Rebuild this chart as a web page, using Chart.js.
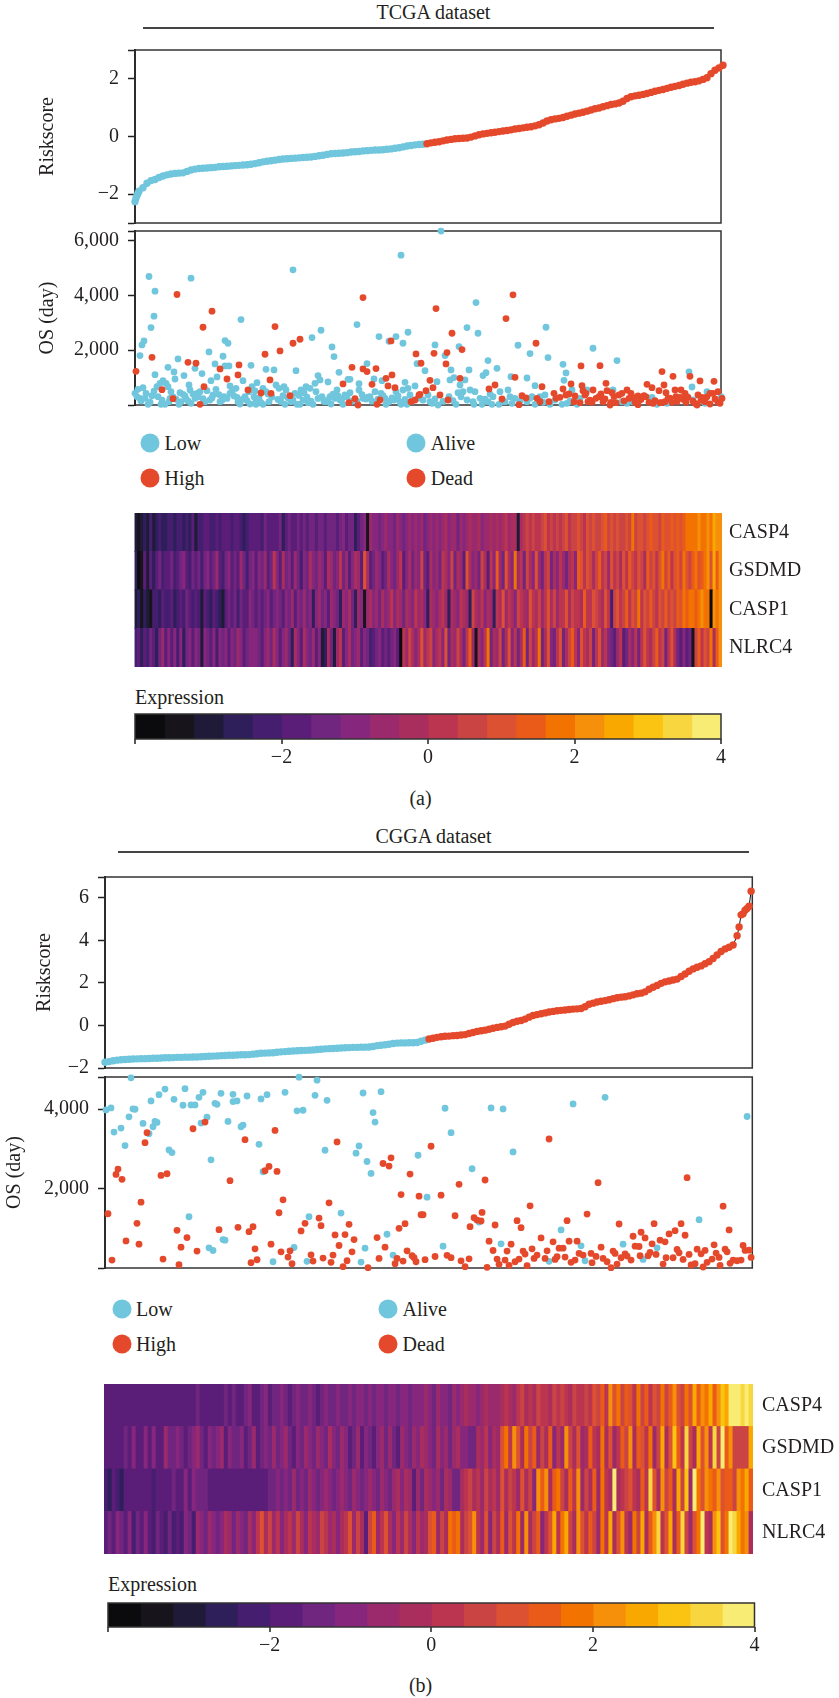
<!DOCTYPE html>
<html>
<head>
<meta charset="utf-8">
<title>TCGA and CGGA risk panels</title>
<script src="https://cdn.jsdelivr.net/npm/chart.js@4"></script>
<style>
  html, body { margin: 0; padding: 0; background: #fff; }
  #page { position: relative; width: 839px; height: 1698px; overflow: hidden; font-family: "Liberation Serif", serif; color: #231f20; }
  canvas { position: absolute; left: 0; }
  .txt { position: absolute; white-space: nowrap; font-size: 20px; line-height: 24px; transform: translateY(-50%); }
  .mid { transform: translate(-50%, -50%); }
  .rule { position: absolute; height: 2px; background: #444; }
  .dot { position: absolute; width: 19px; height: 19px; border-radius: 50%; transform: translate(-50%, -50%); }
</style>
</head>
<body>
<div id="page"></div>
<script>
// colours
let blue = '#70c6dc';
let red = '#e5492c';
let ink = '#231f20';
let serif = 'Liberation Serif';

// colour bar bins, -4 to 4 in steps of 0.4
let binColors = ['#0b0a0c', '#17141b', '#1f1a38', '#2e1e5a', '#451e70', '#5b1e78', '#70257f', '#86267c', '#9b2a6c', '#aa2e5d',
    '#bb3550', '#cb4444', '#dd5133', '#ea5b19', '#f27300', '#f68f0a', '#f9a800', '#fbc312', '#f8d640', '#f8ec74'];
let binEdges = [-4, -3.6, -3.2, -2.8, -2.4, -2, -1.6, -1.2, -0.8, -0.4, 0, 0.4, 0.8, 1.2, 1.6, 2, 2.4, 2.8, 3.2, 3.6, 4];
let barTicks = [-4, -2, 0, 2, 4];
let barTickLabels = ['', '\u22122', '0', '2', '4'];
let genes = ['NLRC4', 'CASP1', 'GSDMD', 'CASP4'];

// TCGA risk score, sorted, one value every 4 ranks
let tcgaRiskStep = 4;
let tcgaRiskLow = [-2.26, -1.9, -1.78, -1.62, -1.53, -1.49, -1.42, -1.37, -1.33, -1.3, -1.28, -1.27, -1.26, -1.21, -1.16, -1.13, -1.11, -1.1, -1.09, -1.08,
    -1.07, -1.05, -1.04, -1.03, -1.02, -1.01, -1, -0.99, -0.98, -0.96, -0.94, -0.91, -0.88, -0.86, -0.84, -0.82, -0.8, -0.78, -0.77, -0.76,
    -0.75, -0.74, -0.73, -0.72, -0.71, -0.69, -0.67, -0.65, -0.62, -0.6, -0.59, -0.58, -0.57, -0.56, -0.54, -0.53, -0.52, -0.5, -0.49, -0.48,
    -0.47, -0.47, -0.46, -0.44, -0.43, -0.41, -0.39, -0.36, -0.33, -0.31, -0.29, -0.28, -0.27];
let tcgaRiskHigh = [-0.25, -0.22, -0.2, -0.18, -0.15, -0.12, -0.1, -0.08, -0.07, -0.06, -0.05, -0.02, 0.02, 0.06, 0.09, 0.11, 0.13, 0.15, 0.17, 0.19,
    0.21, 0.23, 0.26, 0.28, 0.3, 0.32, 0.34, 0.37, 0.41, 0.47, 0.54, 0.58, 0.61, 0.63, 0.66, 0.7, 0.74, 0.78, 0.81, 0.84,
    0.88, 0.92, 0.96, 0.99, 1.03, 1.07, 1.11, 1.13, 1.16, 1.22, 1.32, 1.38, 1.41, 1.43, 1.46, 1.49, 1.53, 1.57, 1.6, 1.63,
    1.67, 1.71, 1.74, 1.77, 1.81, 1.85, 1.88, 1.9, 1.93, 1.98, 2.04, 2.18, 2.3, 2.38, 2.47];
let tcgaHeadRank = [1, 2, 3];
let tcgaHeadRisk = [-2.14, -2.05, -1.97];

// TCGA survival
let tcgaAliveRank = [14, 20, 19, 16, 9, 7, 5, 56, 74, 80, 90, 93, 88, 106, 90, 94, 116, 43, 33, 39, 40, 49, 20, 60, 67, 76, 82, 158, 177, 186, 161, 131, 139, 197, 199, 204, 183, 185, 193, 108, 122, 222, 244, 254, 261, 268, 273, 232, 213, 215, 224, 239, 247, 266, 270, 282,
    306, 300, 341, 332, 343, 383, 395, 411, 413, 458, 482, 428, 431, 429, 353, 362, 351, 348, 334, 324, 310, 316, 290, 302, 315, 319, 330, 376, 392, 400, 554, 557, 325,
    0, 3, 8, 5, 10, 13, 17, 22, 25, 28, 31, 33, 36, 23, 26, 30, 35, 44, 45, 48, 46, 51, 54, 55, 56, 62, 65, 60, 72, 75, 81, 78, 85, 89, 95, 97, 101, 95, 102, 105, 110, 114, 117, 120, 115, 121, 128, 131, 121, 128, 134, 141, 144, 149, 151, 146, 150, 158, 160, 162, 166, 169, 171, 175, 180, 181, 165, 173, 178, 187, 191, 195, 200, 202, 196, 205, 210, 208, 215, 216, 224, 228, 231, 240, 235, 246, 250, 251, 259, 261, 265, 268, 273, 266, 272, 275, 280,
    288, 293, 297, 303, 314, 321, 323, 328, 332, 335, 340, 339, 345, 347, 353, 358, 357, 364, 365, 373, 375, 380, 370, 377, 392, 397, 400, 405, 410, 415, 427, 432, 442, 437, 445, 452, 478, 487, 492, 498, 517, 522, 532, 552, 572, 586, 570, 558,
    2, 6, 11, 15, 19, 27, 34, 38, 41, 50, 53, 58, 63, 68, 70, 77, 84, 87, 92, 99, 103, 108, 112, 119, 124, 126, 133, 137, 143, 148, 153, 156, 164, 168, 172, 176, 183, 189, 193, 198, 203, 207, 212, 219, 222, 227, 233, 237, 243, 248, 254, 257, 263, 270, 277, 283, 295, 300, 308, 318, 326, 338, 350, 355, 368, 385, 395, 408, 420, 435];
let tcgaAliveOS = [4693, 4157, 3243, 2828, 2340, 2194, 1804, 4632, 1938, 1500, 2353, 2255, 1780, 3120, 1426, 1426, 1450, 1682, 1377, 1207, 950, 1073, 1109, 1340, 1146, 890, 1024, 4937, 2462, 2730, 1255, 1304, 1280, 2121, 1768, 1195, 1073, 914, 841, 890, 817, 2938, 2499, 2328, 2499, 2255, 2657, 1512, 939, 939, 780, 950, 890, 5473, 829, 1510,
    6351, 2194, 3742, 2828, 2620, 2182, 1877, 2840, 1731, 2072, 1621, 1487, 1170, 902, 1621, 1340, 1182, 1073, 1280, 2133, 1804, 1280, 1255, 853, 914, 1000, 914, 1036, 987, 707, 1207, 658, 731,
    427, 573, 634, 244, 244, 24, 341, 670, 792, 890, 792, 670, 488, 305, 24, 24, 244, 24, 451, 390, 122, 219, 731, 548, 61, 427, 488, 244, 524, 183, 573, 366, 122, 305, 695, 488, 610, 427, 280, 37, 305, 488, 670, 512, 37, 158, 610, 488, 24, 24, 122, 731, 610, 670, 548, 122, 24, 183, 427, 24, 548, 451, 670, 610, 792, 488, 24, 85, 24, 305, 122, 305, 244, 548, 37, 183, 366, 24, 451, 122, 548, 244, 219, 488, 305, 427, 244, 24, 183, 488, 122, 548, 610, 24, 24, 366, 695,
    183, 366, 61, 0, 305, 24, 451, 488, 183, 548, 488, 24, 244, 24, 122, 305, 24, 24, 488, 548, 305, 244, 122, 61, 122, 305, 24, 305, 366, 24, 24, 61, 24, 548, 244, 548, 548, 122, 61, 122, 280, 24, 61, 305, 488, 305, 61, 183,
    300, 150, 420, 100, 510, 180, 120, 300, 210, 330, 150, 400, 300, 230, 120, 260, 380, 170, 240, 330, 120, 210, 160, 300, 250, 90, 400, 290, 200, 340, 260, 120, 350, 180, 290, 140, 240, 130, 190, 400, 330, 230, 300, 170, 120, 380, 290, 140, 210, 340, 120, 260, 330, 200, 140, 250, 120, 220, 130, 160, 300, 120, 210, 400, 130, 150, 250, 100, 180, 140];
let tcgaDeadRank = [1, 17, 42, 68, 77, 53, 61, 85, 92, 104, 103, 140, 130, 145, 158, 165, 135, 113, 126, 136, 155, 27, 38, 65, 69, 228, 256, 217, 228, 232, 241, 251, 257, 237, 208, 220, 214, 223, 253, 260, 245, 242, 276, 280, 281, 284,
    301, 317, 299, 312, 311, 327, 286, 295, 298, 325, 291, 285, 305, 313, 378, 371, 401, 446, 465, 380, 360, 354, 407, 428, 436, 447, 471, 527, 538, 555, 565, 579, 512, 517, 529,
    367, 384, 387, 391, 405, 402, 414, 419, 421, 425, 431, 434, 440, 439, 445, 448, 451, 450, 458, 453, 457, 461, 466, 464, 468, 475, 477, 472, 476, 481, 484, 487, 492, 496, 498, 503, 509, 503, 514, 518, 525, 530, 533, 537, 524, 531, 540, 546, 541, 545, 550, 551, 560, 562, 563, 567, 575, 578, 583, 583, 575, 570,
    455, 470, 479, 489, 494, 500, 506, 511, 520, 527, 535, 542, 548, 553, 558, 566, 572, 580, 585, 587];
let tcgaDeadOS = [1231, 1743, 4035, 2840, 3425, 1560, 1524, 1316, 950, 1463, 1097, 2865, 1853, 1975, 2255, 2401, 914, 548, 439, 427, 341, 561, 232, 24, 670, 3925, 2340, 1377, 1316, 1219, 1329, 975, 1097, 756, 768, 232, 85, 0, 695, 634, 183, 24, 122, 183, 1865, 366,
    3523, 2621, 1889, 1914, 1499, 2024, 1524, 902, 634, 975, 524, 390, 366, 183, 4023, 3157, 2255, 1426, 1438, 1012, 731, 585, 670, 585, 768, 707, 792, 1219, 1048, 1048, 878, 865, 756, 634, 731,
    219, 12, 341, 256, 122, 244, 122, 427, 244, 280, 366, 402, 329, 122, 85, 524, 427, 366, 548, 122, 98, 244, 402, 305, 122, 0, 451, 524, 98, 85, 366, 427, 548, 427, 280, 329, 341, 12, 98, 61, 85, 122, 244, 98, 524, 451, 548, 548, 305, 280, 427, 98, 61, 0, 366, 280, 427, 427, 488, 98, 37, 122,
    180, 220, 310, 150, 240, 110, 200, 300, 160, 90, 250, 130, 210, 280, 140, 170, 300, 220, 60, 240];

// TCGA expression, colour bar bin per sample group, left to right
let tcgaCASP4 = [2, 1, 2, 3, 2, 4, 2, 3, 4, 3, 3, 4, 4, 3, 4, 4, 3, 4, 3, 5,
    2, 4, 4, 5, 5, 4, 4, 5, 4, 5, 5, 5, 4, 5, 5, 4, 3, 4, 5, 5,
    5, 5, 4, 6, 5, 5, 5, 5, 6, 3, 5, 6, 5, 5, 6, 5, 6, 5, 6, 6,
    5, 6, 6, 5, 6, 6, 6, 5, 6, 7, 5, 6, 6, 3, 5, 6, 7, 1, 8, 7,
    7, 6, 7, 8, 7, 7, 6, 8, 7, 6, 7, 8, 7, 8, 7, 8, 6, 7, 8, 7,
    8, 7, 8, 9, 7, 8, 8, 6, 8, 7, 8, 9, 8, 8, 9, 7, 8, 8, 9, 8,
    9, 8, 9, 10, 8, 9, 9, 2, 9, 10, 11, 10, 11, 10, 10, 11, 12, 10, 11, 10,
    11, 10, 11, 12, 10, 11, 11, 12, 11, 10, 12, 11, 12, 11, 11, 12, 13, 11, 12, 11,
    12, 11, 11, 12, 11, 14, 11, 12, 12, 11, 12, 13, 12, 12, 11, 13, 12, 12, 13, 12,
    13, 12, 13, 14, 14, 14, 14, 15, 14, 14, 15, 14, 16, 15, 15];
let tcgaGSDMD = [3, 0, 1, 5, 2, 5, 3, 5, 6, 4, 5, 5, 6, 4, 5, 6, 7, 5, 4, 6,
    5, 6, 4, 6, 7, 5, 6, 8, 5, 4, 6, 7, 5, 6, 5, 8, 6, 4, 6, 7,
    5, 7, 6, 8, 5, 6, 10, 7, 5, 9, 6, 7, 5, 8, 6, 4, 7, 6, 9, 7,
    6, 8, 7, 5, 9, 8, 6, 7, 10, 6, 8, 5, 7, 9, 8, 5, 12, 9, 5, 6,
    8, 7, 5, 6, 9, 7, 6, 8, 10, 5, 7, 9, 6, 8, 7, 11, 6, 5, 9, 7,
    8, 6, 10, 9, 7, 11, 6, 9, 8, 5, 12, 9, 7, 8, 6, 11, 9, 5, 10, 7,
    13, 8, 6, 12, 9, 7, 14, 8, 10, 6, 11, 9, 7, 12, 8, 6, 10, 11, 6, 9,
    7, 10, 8, 6, 9, 10, 7, 13, 12, 10, 12, 11, 9, 11, 13, 10, 11, 8, 12, 10,
    11, 9, 12, 10, 13, 11, 10, 12, 11, 9, 13, 11, 12, 10, 12, 14, 11, 13, 10, 12,
    13, 11, 14, 12, 11, 13, 14, 12, 13, 14, 15, 12, 16, 13, 15];
let tcgaCASP1 = [2, 3, 1, 3, 2, 1, 4, 4, 3, 5, 4, 4, 5, 3, 4, 5, 4, 6, 5, 4,
    5, 4, 2, 5, 4, 3, 5, 4, 3, 2, 5, 6, 5, 6, 4, 6, 5, 5, 7, 6,
    5, 6, 5, 6, 7, 5, 6, 7, 6, 5, 7, 6, 8, 5, 7, 6, 8, 6, 7, 3,
    7, 8, 6, 7, 5, 8, 7, 6, 3, 8, 7, 9, 6, 3, 8, 7, 1, 8, 9, 7,
    8, 6, 9, 7, 8, 10, 7, 9, 8, 6, 9, 8, 7, 10, 8, 9, 7, 3, 9, 8,
    7, 9, 10, 8, 3, 9, 8, 7, 10, 9, 8, 3, 11, 9, 8, 10, 7, 9, 8, 3,
    10, 9, 12, 8, 10, 9, 7, 11, 10, 9, 8, 12, 10, 9, 11, 8, 10, 12, 9, 11,
    8, 10, 10, 12, 9, 11, 10, 10, 9, 13, 10, 10, 12, 11, 10, 9, 12, 10, 4, 11,
    12, 10, 11, 13, 10, 12, 11, 14, 10, 12, 11, 13, 11, 10, 12, 11, 13, 11, 12, 11,
    13, 12, 14, 13, 14, 14, 13, 14, 15, 14, 14, 0, 15, 14, 15];
let tcgaNLRC4 = [4, 5, 3, 5, 4, 6, 5, 3, 6, 8, 5, 7, 5, 7, 4, 7, 3, 6, 7, 5,
    7, 6, 2, 7, 6, 5, 7, 4, 7, 6, 7, 5, 7, 6, 8, 7, 5, 6, 7, 7,
    7, 6, 5, 7, 8, 6, 9, 7, 5, 7, 8, 6, 3, 9, 7, 5, 9, 7, 6, 8,
    5, 7, 2, 3, 9, 6, 2, 8, 10, 5, 7, 9, 6, 7, 8, 5, 7, 6, 4, 5,
    6, 7, 5, 6, 5, 6, 7, 5, 0, 10, 8, 11, 9, 7, 9, 12, 8, 10, 11, 7,
    9, 10, 7, 12, 6, 9, 8, 11, 9, 6, 10, 13, 8, 1, 9, 7, 10, 14, 6, 9,
    8, 11, 6, 9, 12, 7, 10, 6, 9, 13, 6, 11, 8, 10, 14, 6, 9, 12, 7, 6,
    10, 12, 6, 9, 11, 13, 10, 7, 12, 10, 9, 11, 6, 10, 12, 8, 10, 7, 6, 5,
    8, 10, 5, 6, 9, 7, 10, 6, 10, 12, 10, 9, 11, 13, 10, 11, 6, 10, 12, 9,
    6, 5, 7, 5, 6, 1, 11, 13, 10, 12, 11, 14, 9, 13, 15];

// CGGA risk score, sorted, one value every 2 ranks
let cggaRiskStep = 2;
let cggaRiskLow = [-1.73, -1.7, -1.66, -1.63, -1.61, -1.6, -1.59, -1.58, -1.57, -1.56, -1.56, -1.55, -1.54, -1.54, -1.53, -1.52, -1.52, -1.51, -1.5, -1.5,
    -1.49, -1.49, -1.48, -1.48, -1.47, -1.46, -1.45, -1.44, -1.43, -1.42, -1.41, -1.4, -1.4, -1.39, -1.38, -1.38, -1.37, -1.35, -1.33, -1.31,
    -1.3, -1.29, -1.28, -1.26, -1.24, -1.23, -1.21, -1.2, -1.19, -1.18, -1.17, -1.16, -1.15, -1.13, -1.12, -1.1, -1.09, -1.08, -1.07, -1.06,
    -1.05, -1.04, -1.03, -1.03, -1.02, -1.02, -1.01, -0.99, -0.95, -0.93, -0.91, -0.88, -0.85, -0.83, -0.82, -0.82, -0.81, -0.81, -0.8, -0.74, -0.69];
let cggaRiskHigh = [-0.64, -0.6, -0.56, -0.53, -0.51, -0.5, -0.48, -0.47, -0.45, -0.43, -0.38, -0.33, -0.28, -0.25, -0.22, -0.18, -0.13, -0.09, -0.06, -0.03,
    0.06, 0.14, 0.2, 0.23, 0.3, 0.39, 0.47, 0.51, 0.55, 0.59, 0.63, 0.66, 0.69, 0.71, 0.73, 0.75, 0.77, 0.78, 0.8, 0.88,
    1, 1.05, 1.1, 1.14, 1.17, 1.21, 1.26, 1.3, 1.33, 1.35, 1.39, 1.44, 1.49, 1.52, 1.58, 1.7, 1.8, 1.88, 1.98, 2.05,
    2.09, 2.14, 2.18, 2.3, 2.42, 2.55, 2.66, 2.74, 2.8, 2.9, 3, 3.15, 3.31, 3.48, 3.6, 3.68, 3.78];
let cggaTailRank = [316, 317, 318, 319, 320, 321, 322, 323];
let cggaTailRisk = [4.22, 4.63, 5.2, 5.25, 5.42, 5.5, 5.61, 6.31];

// CGGA survival
let cggaAliveRank = [0.5, 3, 4.5, 8, 10, 12, 13, 14, 15, 19, 23, 22, 24, 25, 26, 27, 30, 32, 33.5, 34.5, 39, 40, 42, 43, 45, 47, 49, 48, 51, 52, 54, 53, 55, 56, 58, 59, 60, 61.5, 64, 64, 66, 68, 69, 71, 77, 78, 79, 81, 84, 90, 94.5, 96, 99, 97, 101, 102, 105, 106, 110, 111, 118, 125.5, 127, 129, 130, 128, 131, 133, 134, 135, 138, 141, 144, 156.5,
    170, 173, 193, 199, 204, 183.5, 161, 187, 234, 250, 321, 297, 228, 169, 198, 222, 238, 240, 259, 269, 276];
let cggaAliveOS = [3982, 4032, 3424, 3524, 3082, 3807, 4790, 4007, 3998, 3640, 4207, 3382, 3557, 3690, 3665, 4365, 4507, 2974, 2907, 4248, 4098, 4515, 1291, 4107, 4107, 4298, 4423, 3649, 3798, 508, 441, 2724, 4148, 4123, 4398, 716, 700, 3690, 4373, 4190, 4207, 3557, 3599, 4332, 3115, 4257, 2424, 4365, 158, 4423, 516, 3957, 3973, 4806, 167, 1291, 4348, 4731, 2965, 4223, 1383, 2891, 3074, 4407, 500, 150, 2682, 2382, 3915, 3674, 4440, 850, 325, 2840,
    4023, 3407, 4032, 4007, 2924, 2500, 1783, 1158, 4132, 4298, 3815, 1216, 958, 550, 608, 167, 558, 183, 600, 217, 508];
let cggaDeadRank = [21, 20, 6.5, 5.5, 8.5, 1.5, 3.5, 10.5, 16, 17, 18, 28, 31, 29, 36, 38, 37, 41, 44, 46, 50, 57, 62.5, 66.5, 70, 72, 74, 75, 73, 76, 80, 82, 83, 85, 86, 87, 89, 88, 91.5, 92.5, 93.5, 98, 100, 103, 104, 107, 108, 109, 112, 113, 114, 115, 116, 117, 119, 120, 121, 122, 123.5, 124.5, 131.5, 136, 137, 139, 140, 142, 143, 145, 146, 147, 148, 149, 150, 151, 152.5, 153.5, 154.5, 155.5, 157, 158,
    159, 163, 168, 177, 175, 190, 222, 212.5, 188.5, 184.5, 186, 188, 182.5, 195, 206, 208, 192, 194, 196, 197, 191, 201, 203, 200, 202, 205, 207, 209, 210, 211, 213.5, 214.5, 216, 218, 220, 221, 224, 225, 226, 227, 229, 231, 230, 232, 233, 235, 236, 237, 239, 241, 243, 243.5, 245.5, 246.5, 248, 249, 251, 253, 256, 254, 255, 257, 258, 260, 261, 263, 264, 265, 267, 267.5, 268, 270, 271.5, 272.5, 273.5, 274.5, 275.5, 277.5, 280, 279, 280.5, 284, 282, 285, 286, 287, 288, 289, 290, 291, 292, 293, 295, 296, 298, 300, 299, 301, 303.5, 304.5, 305.5, 307, 307.5, 309, 310, 311, 312, 312.5, 314, 316, 318, 319, 320, 322, 323,
    160, 165, 171, 173, 178, 180, 182];
let cggaDeadOS = [3407, 3157, 2491, 2357, 2232, 1366, 200, 683, 1125, 600, 1658, 2332, 2374, 225, 950, 525, 83, 766, 3507, 425, 3674, 966, 2199, 1025, 3232, 916, 1041, 483, 133, 208, 2449, 2557, 600, 3465, 2432, 1391, 1716, 408, 275, 433, 108, 933, 1125, 333, 175, 1258, 1066, 250, 1641, 142, 325, 833, 3174, 566, 33, 841, 183, 1100, 408, 716, 8, 766, 242, 2632, 525, 2566, 2774, 108, 242, 1000, 1849, 175, 1116, 433, 2366, 308, 258, 158, 1808, 1341,
    1341, 3066, 1833, 2108, 1316, 2216, 3249, 1566, 1400, 1266, 1208, 1183, 1041, 1083, 1191, 1016, 675, 441, 225, 92, 17, 425, 600, 200, 67, 158, 225, 425, 350, 58, 483, 242, 325, 758, 242, 433, 658, 217, 283, 500, 500, 1191, 275, 675, 142, 200, 675, 367, 325, 1358, 367, 133, 292, 2149, 525, 242, 158, 8, 100, 425, 367, 1108, 258, 358, 300, 200, 800, 550, 541, 308, 900, 758, 308, 392, 608, 1116, 342, 700, 658, 100, 258, 258, 858, 941, 467, 383, 1116, 217, 825, 2274, 342, 75, 108, 475, 358, 442, 25, 142, 225, 583, 375, 267, 67, 1558, 475, 408, 958, 117, 200, 183, 200, 566, 442, 450, 267,
    210, 290, 320, 260, 180, 33, 230];

// CGGA expression
let cggaCASP4 = [5, 5, 5, 5, 5, 5, 5, 5, 5, 5, 5, 5, 5, 5, 5, 5, 5, 5, 5, 5,
    5, 5, 5, 6, 5, 5, 5, 5, 5, 5, 6, 5, 6, 5, 5, 6, 7, 5, 5, 6,
    7, 5, 6, 6, 7, 6, 5, 6, 7, 6, 6, 7, 6, 5, 6, 7, 6, 6, 7, 6,
    6, 7, 6, 7, 7, 6, 7, 6, 7, 7, 6, 7, 7, 6, 7, 7, 6, 7, 7, 7,
    8, 7, 6, 8, 7, 7, 6, 8, 7, 8, 9, 8, 8, 7, 8, 9, 8, 8, 8, 9,
    10, 9, 8, 10, 11, 9, 10, 9, 11, 10, 10, 9, 11, 10, 11, 10, 9, 11, 10, 10,
    11, 10, 12, 11, 13, 10, 15, 12, 14, 11, 13, 12, 10, 14, 11, 13, 10, 12, 11, 14,
    11, 13, 15, 12, 11, 14, 12, 16, 13, 15, 14, 16, 13, 15, 17, 16, 19, 19, 19, 18,
    19, 18];
let cggaGSDMD = [5, 5, 5, 5, 5, 6, 5, 7, 5, 5, 7, 5, 7, 5, 5, 8, 6, 6, 7, 6,
    5, 6, 7, 8, 6, 5, 7, 6, 7, 8, 5, 7, 6, 6, 7, 5, 6, 8, 5, 6,
    7, 6, 8, 6, 7, 8, 6, 5, 7, 6, 8, 7, 6, 8, 7, 6, 9, 7, 6, 8,
    7, 5, 6, 8, 5, 7, 6, 5, 7, 8, 6, 8, 6, 5, 8, 7, 6, 8, 7, 9,
    8, 7, 6, 9, 7, 8, 6, 8, 9, 7, 7, 6, 6, 9, 8, 10, 7, 9, 8, 12,
    14, 10, 15, 12, 9, 14, 11, 13, 8, 11, 9, 13, 7, 10, 8, 15, 11, 9, 12, 8,
    9, 13, 10, 9, 14, 9, 12, 8, 10, 13, 11, 15, 9, 13, 12, 10, 14, 8, 11, 16,
    9, 12, 17, 13, 10, 18, 11, 9, 16, 12, 15, 10, 18, 11, 19, 13, 15, 11, 11, 11,
    11, 16];
let cggaCASP1 = [4, 3, 5, 4, 3, 5, 5, 5, 5, 5, 5, 5, 4, 5, 5, 5, 5, 6, 5, 5,
    7, 5, 7, 6, 6, 6, 5, 5, 5, 5, 5, 5, 5, 5, 5, 5, 5, 5, 5, 5,
    5, 6, 6, 7, 6, 7, 6, 8, 6, 7, 6, 8, 7, 6, 7, 8, 7, 6, 7, 8,
    7, 6, 8, 7, 6, 7, 8, 7, 6, 8, 7, 6, 8, 9, 7, 9, 8, 5, 8, 6,
    9, 8, 7, 8, 6, 9, 8, 6, 6, 9, 10, 11, 9, 10, 8, 11, 9, 10, 8, 12,
    9, 11, 10, 8, 12, 9, 11, 7, 15, 13, 15, 9, 13, 14, 11, 9, 13, 10, 15, 8,
    11, 9, 13, 8, 14, 10, 9, 19, 9, 10, 11, 12, 10, 9, 13, 10, 18, 12, 9, 15,
    11, 13, 9, 16, 11, 17, 8, 19, 14, 12, 15, 14, 13, 15, 12, 13, 13, 11, 15, 14,
    16, 13];
let cggaNLRC4 = [5, 6, 5, 7, 6, 5, 7, 4, 6, 5, 7, 5, 4, 6, 5, 4, 6, 4, 5, 4,
    7, 6, 4, 8, 7, 6, 8, 7, 6, 7, 9, 8, 6, 8, 7, 6, 9, 7, 10, 12,
    9, 11, 8, 10, 7, 9, 10, 8, 11, 9, 7, 10, 9, 8, 11, 10, 8, 9, 7, 9,
    10, 12, 8, 11, 9, 5, 11, 13, 8, 10, 12, 9, 7, 10, 8, 11, 9, 7, 10, 8,
    9, 12, 13, 8, 11, 9, 14, 13, 14, 9, 11, 12, 15, 10, 8, 12, 7, 11, 9, 13,
    8, 12, 10, 14, 8, 15, 9, 11, 13, 7, 10, 12, 16, 10, 14, 16, 11, 9, 15, 12,
    10, 13, 11, 8, 14, 10, 16, 9, 12, 15, 10, 8, 14, 11, 16, 9, 13, 15, 18, 10,
    12, 16, 9, 13, 18, 11, 8, 12, 14, 19, 10, 9, 15, 17, 12, 14, 19, 18, 16, 14,
    15, 9];

let page = document.getElementById('page');

function addText(text, x, y, centered) {
    let el = document.createElement('div');
    el.className = centered ? 'txt mid' : 'txt';
    el.textContent = text;
    el.style.left = x + 'px';
    el.style.top = y + 'px';
    page.appendChild(el);
}

function addRule(x1, x2, y) {
    let el = document.createElement('div');
    el.className = 'rule';
    el.style.left = x1 + 'px';
    el.style.width = (x2 - x1) + 'px';
    el.style.top = (y - 1) + 'px';
    page.appendChild(el);
}

function addDot(color, x, y) {
    let el = document.createElement('div');
    el.className = 'dot';
    el.style.background = color;
    el.style.left = x + 'px';
    el.style.top = y + 'px';
    page.appendChild(el);
}

function addCanvas(top, height) {
    let c = document.createElement('canvas');
    c.width = 839;
    c.height = height;
    c.style.top = top + 'px';
    page.appendChild(c);
    return c.getContext('2d');
}

// frame round the plot area
let framePlugin = {
    id: 'frame',
    beforeDatasetsDraw: function (chart) {
        let a = chart.chartArea;
        chart.ctx.save();
        chart.ctx.strokeStyle = '#333';
        chart.ctx.lineWidth = 1.5;
        chart.ctx.strokeRect(a.left, a.top, a.right - a.left, a.bottom - a.top);
        chart.ctx.restore();
    }
};

function toPoints(xs, ys) {
    return xs.map(function (x, i) { return { x: x, y: ys[i] }; });
}

function ranked(values, start, step) {
    return values.map(function (v, i) { return { x: start + i * step, y: v }; });
}

function baseOptions(pad) {
    return {
        responsive: false,
        animation: false,
        events: [],
        layout: { padding: pad },
        plugins: { legend: { display: false }, tooltip: { enabled: false } }
    };
}

// left value axis shared by the risk and survival plots
function valueAxis(min, max, values, labels, left, title, titleX) {
    return {
        min: min,
        max: max,
        afterBuildTicks: function (s) { s.ticks = values.map(function (v) { return { value: v }; }); },
        afterFit: function (s) {
            s.width = left;
            s.paddingTop = 0;
            s.paddingBottom = 0;
        },
        border: { display: true, color: '#1a1a1a', width: 2 },
        grid: { drawOnChartArea: false, drawTicks: true, tickLength: 7, tickColor: '#222', tickWidth: 1.5 },
        ticks: {
            autoSkip: false,
            padding: 9,
            color: ink,
            font: { family: serif, size: 20 },
            callback: function (v, i) { return labels[i]; }
        },
        title: {
            display: true,
            text: title,
            color: ink,
            font: { family: serif, size: 20 },
            padding: { top: titleX - 12, bottom: 0 }
        }
    };
}

function scatterChart(box, xMax, yAxis, datasets) {
    let margin = 14;
    let ctx = addCanvas(box.top - margin, box.bottom - box.top + margin * 2);
    return new Chart(ctx, {
        type: 'scatter',
        data: { datasets: datasets },
        options: Object.assign(baseOptions({ top: margin, bottom: margin, right: 839 - box.right, left: 0 }), {
            scales: {
                x: { type: 'linear', min: 0, max: xMax, display: false },
                y: yAxis
            }
        }),
        plugins: [framePlugin]
    });
}

function dots(points, color, radius) {
    return { data: points, showLine: false, pointRadius: radius, pointBackgroundColor: color, pointBorderWidth: 0, clip: false };
}

function riskChart(box, xMax, yAxis, low, high) {
    let all = low.concat(high).slice().sort(function (a, b) { return a.x - b.x; });
    scatterChart(box, xMax, yAxis, [
        dots(high, red, 3.7),
        dots(low, blue, 3.7),
        { data: all, showLine: true, borderColor: '#111', borderWidth: 1, pointRadius: 0, clip: false }
    ]);
}

function survivalChart(box, xMax, yAxis, alive, dead) {
    scatterChart(box, xMax, yAxis, [
        dots(dead, red, 3.4),
        dots(alive, blue, 3.4)
    ]);
}

function heatmap(box, rows, labelGap) {
    let ctx = addCanvas(box.top, box.bottom - box.top);
    let cols = rows[0].map(function (v, i) { return i; });
    new Chart(ctx, {
        type: 'bar',
        data: {
            labels: cols,
            datasets: rows.map(function (row) {
                return {
                    data: row.map(function () { return 1; }),
                    backgroundColor: row.map(function (b) { return binColors[b]; }),
                    barPercentage: 1,
                    categoryPercentage: 1,
                    inflateAmount: 0.4
                };
            })
        },
        options: Object.assign(baseOptions({ left: box.left, top: 0, bottom: 0, right: 0 }), {
            scales: {
                x: { stacked: true, display: false },
                y: {
                    stacked: true,
                    position: 'right',
                    min: 0,
                    max: genes.length,
                    afterBuildTicks: function (s) { s.ticks = genes.map(function (g, i) { return { value: i + 0.5 }; }); },
                    afterFit: function (s) {
                        s.width = 839 - box.right;
                        s.paddingTop = 0;
                        s.paddingBottom = 0;
                    },
                    border: { display: false },
                    grid: { display: false, drawTicks: false },
                    ticks: {
                        autoSkip: false,
                        padding: labelGap,
                        color: ink,
                        font: { family: serif, size: 20 },
                        callback: function (v, i) { return genes[i]; }
                    }
                }
            }
        })
    });
}

function colorBar(box) {
    let axisRoom = 36;
    let ctx = addCanvas(box.top - 2, box.bottom - box.top + 2 + axisRoom);
    new Chart(ctx, {
        type: 'bar',
        data: {
            labels: ['Expression'],
            datasets: binColors.map(function (c, i) {
                return { data: [[binEdges[i], binEdges[i + 1]]], backgroundColor: c, barPercentage: 1, categoryPercentage: 1, grouped: false, inflateAmount: 0.5 };
            })
        },
        options: Object.assign(baseOptions({ left: box.left, right: 839 - box.right, top: 2, bottom: 0 }), {
            indexAxis: 'y',
            scales: {
                y: { display: false },
                x: {
                    type: 'linear',
                    min: binEdges[0],
                    max: binEdges[binEdges.length - 1],
                    afterBuildTicks: function (s) { s.ticks = barTicks.map(function (v) { return { value: v }; }); },
                    afterFit: function (s) { s.height = axisRoom; },
                    border: { display: false },
                    grid: { drawOnChartArea: false, drawTicks: true, lineWidth: 0, tickLength: 5, tickColor: '#222', tickWidth: 1.5 },
                    ticks: {
                        autoSkip: false,
                        maxRotation: 0,
                        padding: 2,
                        color: ink,
                        font: { family: serif, size: 20 },
                        callback: function (v, i) { return barTickLabels[i]; }
                    }
                }
            }
        }),
        plugins: [{
            id: 'barFrame',
            afterDatasetsDraw: framePlugin.beforeDatasetsDraw
        }]
    });
}

function legend(lowX, lowY, aliveX, highY, textGap) {
    addDot(blue, lowX, lowY);
    addDot(red, lowX, highY);
    addDot(blue, aliveX, lowY);
    addDot(red, aliveX, highY);
    addText('Low', lowX + textGap, lowY);
    addText('High', lowX + textGap, highY);
    addText('Alive', aliveX + textGap, lowY);
    addText('Dead', aliveX + textGap, highY);
}

// panel (a)
addText('TCGA dataset', 433.5, 12, true);
addRule(143, 714, 27.5);
riskChart({ top: 50, bottom: 223, right: 721 }, 586,
    valueAxis(-3, 3, [-3, -2, 0, 2, 3], ['', '\u22122', '0', '2', ''], 135, 'Riskscore', 48),
    ranked(tcgaRiskLow, 0, tcgaRiskStep).concat(toPoints(tcgaHeadRank, tcgaHeadRisk)),
    ranked(tcgaRiskHigh, 292, tcgaRiskStep));
survivalChart({ top: 231, bottom: 405, right: 721 }, 586,
    valueAxis(0, 6355, [0, 2000, 4000, 6000, 6355], ['', '2,000', '4,000', '6,000', ''], 135, 'OS (day)', 48),
    toPoints(tcgaAliveRank, tcgaAliveOS), toPoints(tcgaDeadRank, tcgaDeadOS));
legend(149.5, 443, 415.7, 478, 15);
heatmap({ top: 513, bottom: 667, left: 134.5, right: 722 }, [tcgaNLRC4, tcgaCASP1, tcgaGSDMD, tcgaCASP4], 7);
addText('Expression', 135, 697);
colorBar({ top: 714, bottom: 739, left: 135, right: 721 });
addText('(a)', 420.5, 798, true);

// panel (b)
addText('CGGA dataset', 433.5, 836, true);
addRule(118, 749, 852);
riskChart({ top: 876.7, bottom: 1068.3, right: 752.3 }, 323.6,
    valueAxis(-2, 6.98, [-2, 0, 2, 4, 6, 6.98], ['\u22122', '0', '2', '4', '6', ''], 105, 'Riskscore', 44.5),
    ranked(cggaRiskLow, 0, cggaRiskStep),
    ranked(cggaRiskHigh, 162, cggaRiskStep).concat(toPoints(cggaTailRank, cggaTailRisk)));
survivalChart({ top: 1077.3, bottom: 1269, right: 752.3 }, 323.6,
    valueAxis(0, 4810, [0, 2000, 4000, 4810], ['', '2,000', '4,000', ''], 105, 'OS (day)', 15),
    toPoints(cggaAliveRank, cggaAliveOS), toPoints(cggaDeadRank, cggaDeadOS));
legend(121.6, 1309, 388, 1344, 14.5);
heatmap({ top: 1384, bottom: 1554, left: 104, right: 753 }, [cggaNLRC4, cggaCASP1, cggaGSDMD, cggaCASP4], 9);
addText('Expression', 108, 1584);
colorBar({ top: 1602.5, bottom: 1626.5, left: 108, right: 754.5 });
addText('(b)', 420.6, 1685, true);
</script>
</body>
</html>
